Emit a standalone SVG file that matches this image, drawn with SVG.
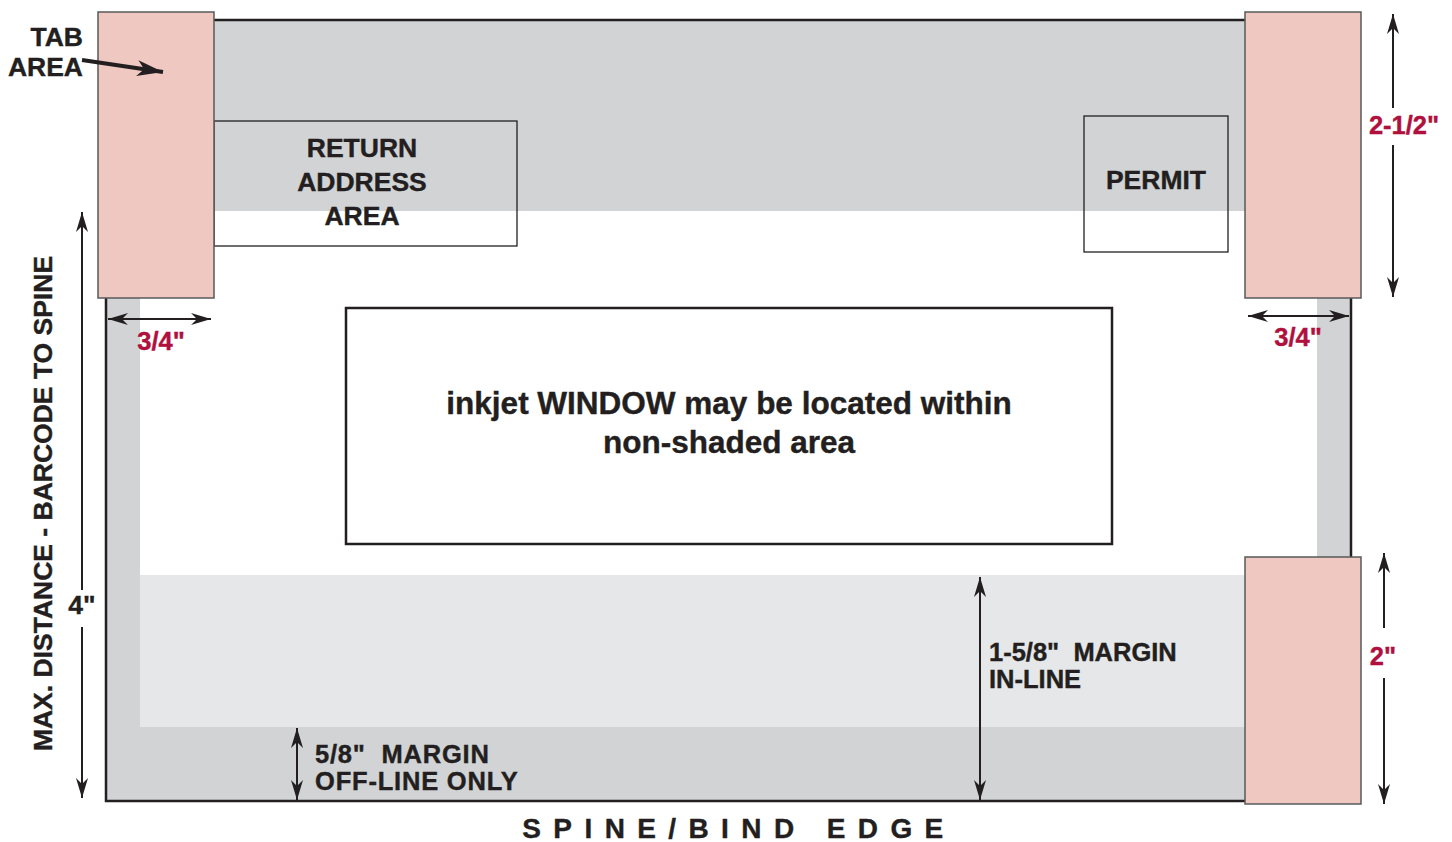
<svg xmlns="http://www.w3.org/2000/svg" width="1452" height="842" viewBox="0 0 1452 842">
<defs>
<style>
.t{font-family:"Liberation Sans",Arial,sans-serif;font-weight:bold;fill:#231F20;stroke:#231F20;stroke-width:0.4;font-size:26.5px}
.s{font-size:25.5px}
.w{letter-spacing:0.8px}
.r{font-family:"Liberation Sans",Arial,sans-serif;font-weight:bold;fill:#B0103D;stroke:#B0103D;stroke-width:0.4;font-size:25.5px}
.tab{fill:#EEC8C1;stroke:#58595B;stroke-width:1.5}
.box{fill:none;stroke:#231F20;stroke-width:1.3}
.dim{stroke:#231F20;stroke-width:2;fill:none}
</style>
<marker id="ah" viewBox="0 0 20 12" refX="20" refY="6" markerWidth="20" markerHeight="12" markerUnits="userSpaceOnUse" orient="auto-start-reverse">
<path d="M0,0 L20,6 L0,12 L6,6 z" fill="#231F20"/>
</marker>
<marker id="ahb" viewBox="0 0 26 16" refX="26" refY="8" markerWidth="26" markerHeight="16" markerUnits="userSpaceOnUse" orient="auto">
<path d="M0,0 L26,8 L0,16 L7,8 z" fill="#231F20"/>
</marker>
</defs>
<rect width="1452" height="842" fill="#FFFFFF"/>
<g id="envelope">
<rect x="106" y="20" width="1245" height="191" fill="#D1D3D5"/>
<rect x="106" y="20" width="34" height="781" fill="#D1D3D5"/>
<rect x="1317" y="20" width="34" height="540" fill="#D1D3D5"/>
<rect x="140" y="575" width="1105" height="152" fill="#E6E7E8"/>
<rect x="106" y="727" width="1150" height="74" fill="#D1D3D5"/>
<rect x="106" y="20" width="1245" height="781" fill="none" stroke="#231F20" stroke-width="2.5"/>
</g>
<g id="return-address">
<rect class="box" x="214" y="121" width="303" height="125"/>
<text class="t" x="362" y="157" text-anchor="middle">RETURN</text>
<text class="t" x="362" y="191" text-anchor="middle">ADDRESS</text>
<text class="t" x="362" y="225" text-anchor="middle">AREA</text>
</g>
<g id="permit">
<rect class="box" x="1084" y="116" width="144" height="136"/>
<text class="t" x="1156" y="189" text-anchor="middle">PERMIT</text>
</g>
<g id="window">
<rect x="346" y="308" width="766" height="236" fill="#FFFFFF" stroke="#231F20" stroke-width="2.5"/>
<text class="t" x="729" y="414" text-anchor="middle" style="font-size:31.5px">inkjet WINDOW may be located within</text>
<text class="t" x="729" y="453" text-anchor="middle" style="font-size:31.5px">non-shaded area</text>
</g>
<g id="tab-left">
<rect class="tab" x="98" y="12" width="116" height="286"/>
</g>
<g id="tab-right-top">
<rect class="tab" x="1245" y="12" width="116" height="286"/>
</g>
<g id="tab-right-bottom">
<rect class="tab" x="1245" y="557" width="116" height="247"/>
</g>
<g id="labels">
<text class="t" x="83" y="46" text-anchor="end">TAB</text>
<text class="t" x="83" y="76" text-anchor="end">AREA</text>
<text class="r" x="1404" y="134" text-anchor="middle">2-1/2"</text>
<text class="r" x="161" y="350" text-anchor="middle">3/4"</text>
<text class="r" x="1298" y="346" text-anchor="middle">3/4"</text>
<text class="r" x="1383" y="665" text-anchor="middle">2"</text>
<text class="t" x="82" y="614" text-anchor="middle">4"</text>
<text class="t" transform="translate(52,503.5) rotate(-90)" text-anchor="middle">MAX. DISTANCE - BARCODE TO SPINE</text>
<text class="t s" x="989" y="661" xml:space="preserve">1-5/8"  MARGIN</text>
<text class="t s" x="989" y="688">IN-LINE</text>
<text class="t s w" x="315" y="763" xml:space="preserve">5/8"  MARGIN</text>
<text class="t s w" x="315" y="790">OFF-LINE ONLY</text>
<text class="t" x="739" y="838" text-anchor="middle" style="font-size:28px;letter-spacing:12.4px">SPINE/BIND EDGE</text>
</g>
<g id="connectors">
<line x1="82" y1="60" x2="163" y2="72" stroke="#231F20" stroke-width="4" marker-end="url(#ahb)"/>
<line class="dim" x1="1393" y1="108" x2="1393" y2="14" marker-end="url(#ah)"/>
<line class="dim" x1="1393" y1="145" x2="1393" y2="297" marker-end="url(#ah)"/>
<line class="dim" x1="108" y1="319" x2="211" y2="319" marker-start="url(#ah)" marker-end="url(#ah)"/>
<line class="dim" x1="1248" y1="316" x2="1349" y2="316" marker-start="url(#ah)" marker-end="url(#ah)"/>
<line class="dim" x1="1384" y1="628" x2="1384" y2="553" marker-end="url(#ah)"/>
<line class="dim" x1="1384" y1="678" x2="1384" y2="804" marker-end="url(#ah)"/>
<line class="dim" x1="82" y1="590" x2="82" y2="212" marker-end="url(#ah)"/>
<line class="dim" x1="82" y1="627" x2="82" y2="798" marker-end="url(#ah)"/>
<line class="dim" x1="980" y1="577" x2="980" y2="800" marker-start="url(#ah)" marker-end="url(#ah)"/>
<line class="dim" x1="297" y1="728" x2="297" y2="800" marker-start="url(#ah)" marker-end="url(#ah)"/>
</g>
</svg>
